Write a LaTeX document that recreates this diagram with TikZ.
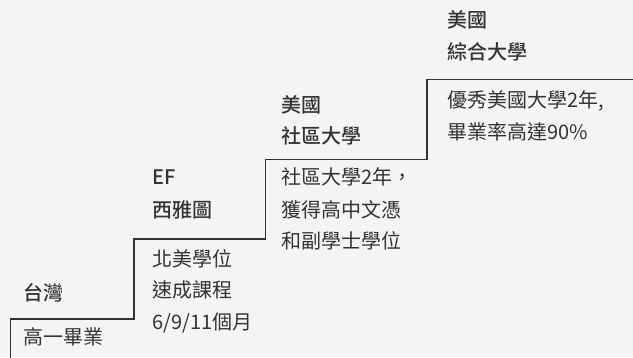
\documentclass[tikz,border=0pt]{standalone}
\usepackage{fontspec}
\setmainfont{Noto Sans CJK TC}
\newfontfamily\cjk{Noto Sans CJK TC}
\newfontfamily\cjkmed{Noto Sans CJK TC Medium}
\definecolor{bgc}{HTML}{F5F4F2}
\definecolor{ink}{HTML}{333333}
\tikzset{
  txt/.style={anchor=west, inner sep=0pt, text=ink, font=\cjk\fontsize{20pt}{24pt}\selectfont, text height=0.85em, text depth=0.1em},
  head/.style={txt, font=\cjkmed\fontsize{20pt}{24pt}\selectfont},
  stair/.style={draw=ink, line width=1.1pt}
}
\begin{document}
\begin{tikzpicture}[x=1pt,y=-1pt]
\fill[bgc] (0,0) rectangle (633,357);
\useasboundingbox (0,0) rectangle (633,357);
% staircase
\coordinate (s0) at (10.5,360);
\coordinate (s1) at (10.5,319);
\coordinate (s2) at (134,319);
\coordinate (s3) at (134,239);
\coordinate (s4) at (265.5,239);
\coordinate (s5) at (265.5,159.5);
\coordinate (s6) at (427,159.5);
\coordinate (s7) at (427,79.5);
\coordinate (s8) at (640,79.5);
\draw[stair] (s0) -- (s1) -- (s2) -- (s3) -- (s4) -- (s5) -- (s6) -- (s7) -- (s8);
% step 1
\node[head] (h1) at (23.5,297) {台灣};
\node[txt] (t1a) at (23.5,341) {高一畢業};
% step 2
\node[head] (h2a) at (152,181) {EF};
\node[head] (h2b) at (152,213.5) {西雅圖};
\node[txt] (t2a) at (152,263) {北美學位};
\node[txt] (t2b) at (152,294) {速成課程};
\node[txt] (t2c) at (152,326) {6/9/11個月};
% step 3
\node[head] (h3a) at (281.5,109) {美國};
\node[head] (h3b) at (281.5,140) {社區大學};
\node[txt] (t3a) at (281.5,181) {社區大學2年，};
\node[txt] (t3b) at (281.5,213.5) {獲得高中文憑};
\node[txt] (t3c) at (281.5,244.5) {和副學士學位};
% step 4
\node[head] (h4a) at (447,24) {美國};
\node[head] (h4b) at (447,56) {綜合大學};
\node[txt] (t4a) at (447,104) {優秀美國大學2年,};
\node[txt] (t4b) at (447,136) {畢業率高達90\%};
\end{tikzpicture}
\end{document}
